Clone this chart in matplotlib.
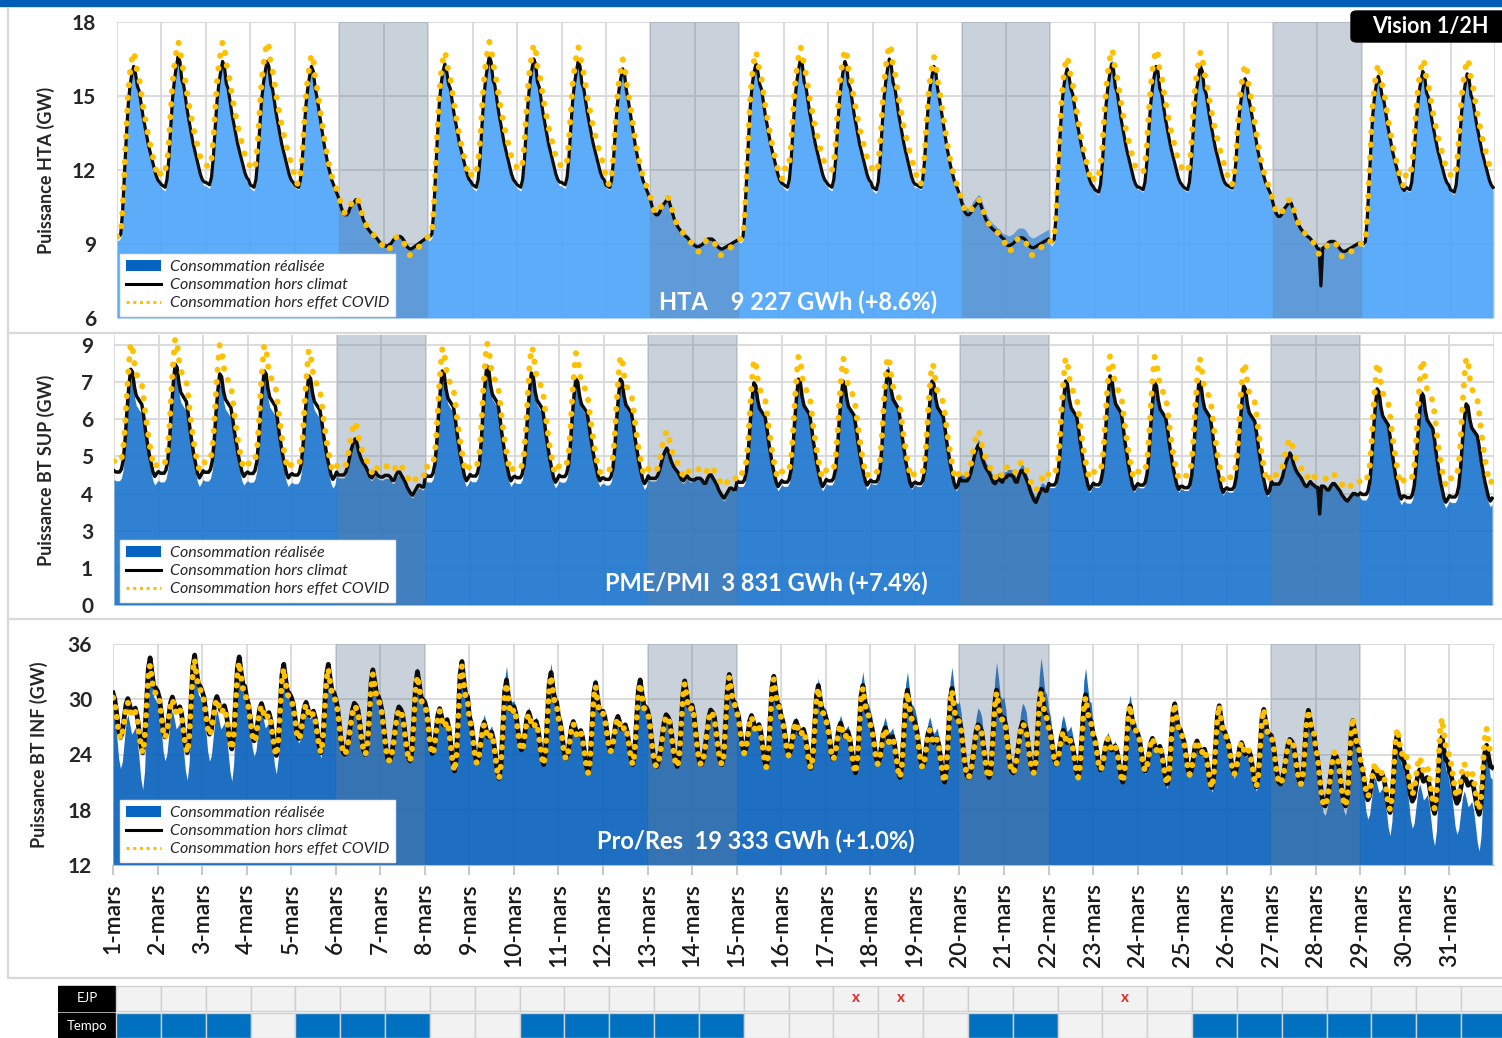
import numpy as np
import pandas as pd
import matplotlib
matplotlib.use("Agg")
import matplotlib.pyplot as plt
from matplotlib.patches import Rectangle, FancyBboxPatch, Patch
from matplotlib.lines import Line2D

plt.rcParams['font.family'] = ['Lato', 'DejaVu Sans']

# ---------------- data ----------------
days = pd.date_range('2021-03-01', periods=31)
day_labels = [f"{d.day}-mars" for d in days]
hours = np.arange(24)

# HTA : hourly shape of the "hors climat" curve per day type (GW)
hta_shapes = {
    'mon': [9.3, 9.3, 9.4, 10.3, 11.8, 13.3, 14.6, 15.4, 15.9, 16.2, 15.9, 15.4,
            15.2, 14.7, 14.2, 13.8, 13.4, 13.0, 12.7, 12.4, 12.1, 11.8, 11.6, 11.5],
    'wd': [11.4, 11.35, 11.3, 11.6, 12.4, 13.6, 14.7, 15.4, 15.9, 16.3, 16.1, 15.4,
           15.2, 14.7, 14.2, 13.8, 13.4, 13.0, 12.7, 12.4, 12.1, 11.8, 11.6, 11.5],
    'fri': [11.4, 11.35, 11.3, 11.6, 12.4, 13.6, 14.7, 15.4, 15.9, 16.3, 16.1, 15.4,
            15.0, 14.5, 14.0, 13.5, 13.0, 12.6, 12.2, 11.9, 11.6, 11.4, 11.2, 11.0],
    'sat': [10.8, 10.5, 10.3, 10.2, 10.2, 10.3, 10.5, 10.6, 10.7, 10.8, 10.75, 10.5,
            10.25, 10.0, 9.85, 9.7, 9.6, 9.5, 9.45, 9.35, 9.3, 9.2, 9.1, 9.05],
    'sun': [9.0, 8.95, 8.95, 9.0, 9.05, 9.15, 9.25, 9.3, 9.3, 9.3, 9.25, 9.15,
            9.0, 8.9, 8.85, 8.85, 8.9, 8.95, 9.0, 9.05, 9.1, 9.15, 9.2, 9.25],
}
hta_keys = ['mon', 'wd', 'wd', 'wd', 'fri', 'sat', 'sun']
hta_low = [9.3, 11.3, 11.4, 11.3, 11.0, 9.0, 8.8,
           9.3, 11.3, 11.3, 11.4, 11.0, 9.0, 8.8,
           9.2, 11.3, 11.3, 11.2, 11.0, 9.2, 8.85,
           9.1, 11.1, 11.2, 11.2, 11.0, 9.0, 8.7,
           9.0, 11.2, 11.1]
hta_peak = [16.2, 16.6, 16.4, 16.4, 16.2, 10.8, 9.3,
            16.3, 16.6, 16.5, 16.4, 16.1, 10.8, 9.2,
            16.3, 16.5, 16.4, 16.5, 16.2, 10.7, 9.25,
            16.1, 16.3, 16.2, 16.2, 15.7, 10.7, 9.1,
            15.8, 16.0, 15.9]
# offsets vs "hors climat" at the daily low / daily peak
hta_fill_lo = [-0.15, -0.15, -0.15, -0.15, -0.1, 0.1, 0.1,
               -0.15, -0.15, -0.15, -0.15, -0.1, 0.1, 0.1,
               -0.15, -0.15, -0.15, -0.15, -0.1, 0.2, 0.4,
               -0.15, -0.1, -0.1, -0.1, -0.1, 0.1, 0.1,
               -0.1, -0.1, -0.1]
hta_fill_hi = [0.0, 0.0, 0.0, 0.0, 0.0, 0.1, 0.1,
               0.0, 0.0, 0.0, 0.0, 0.0, 0.1, 0.1,
               0.0, 0.0, 0.0, 0.0, 0.0, 0.3, 0.4,
               0.0, 0.2, 0.0, 0.0, 0.0, 0.1, 0.1,
               0.0, 0.0, 0.0]
hta_cov_lo = [0.0, 0.7, 0.7, 0.7, 0.1, 0.0, -0.25,
              0.0, 0.7, 0.7, 0.7, 0.1, 0.0, -0.25,
              0.0, 0.7, 0.7, 0.7, 0.1, 0.0, -0.3,
              0.0, 0.7, 0.7, 0.7, 0.1, 0.0, -0.25,
              0.0, 0.6, 0.6]
hta_cov_hi = [0.6, 0.6, 0.8, 0.8, 0.5, 0.1, 0.0,
              0.5, 0.6, 0.6, 0.6, 0.4, 0.1, 0.0,
              0.5, 0.5, 0.5, 0.6, 0.4, 0.1, 0.0,
              0.5, 0.6, 0.7, 0.6, 0.6, 0.1, 0.0,
              0.5, 0.5, 0.6]

# BT SUP (PME/PMI)
sup_shapes = {
    'wd': [4.65, 4.6, 4.6, 4.6, 4.7, 5.0, 5.7, 6.7, 7.5, 8.1, 8.0, 7.5,
           7.2, 7.1, 7.0, 6.9, 6.5, 6.0, 5.6, 5.2, 4.9, 4.6, 4.45, 4.55],
    'sat': [4.6, 4.5, 4.5, 4.5, 4.5, 4.6, 4.8, 5.1, 5.4, 5.6, 5.75, 5.6,
            5.3, 5.1, 4.95, 4.85, 4.75, 4.6, 4.45, 4.4, 4.5, 4.6, 4.5, 4.45],
    'sun': [4.45, 4.45, 4.5, 4.5, 4.5, 4.45, 4.35, 4.35, 4.5, 4.6, 4.6, 4.5,
            4.4, 4.3, 4.15, 4.05, 3.95, 3.9, 4.0, 4.1, 4.2, 4.2, 4.15, 4.15],
}
sup_keys = ['wd', 'wd', 'wd', 'wd', 'wd', 'sat', 'sun']
sup_low = [4.45, 4.4, 4.45, 4.4, 4.35, 4.4, 3.8,
           4.3, 4.3, 4.25, 4.3, 4.2, 4.3, 3.7,
           4.1, 4.1, 4.15, 4.1, 4.05, 4.2, 3.55,
           4.0, 4.0, 4.0, 3.9, 3.85, 4.1, 3.6,
           3.67, 3.56, 3.6]
sup_peak = [8.16, 8.33, 8.0, 8.1, 7.93, 5.75, 4.6,
            8.1, 8.27, 8.03, 7.82, 7.82, 5.43, 4.5,
            7.69, 7.82, 7.75, 8.1, 7.75, 5.54, 4.65,
            7.75, 7.93, 7.69, 7.75, 7.58, 5.26, 4.2,
            7.48, 7.34, 6.96]
sup_fill_lo = [-0.3, -0.3, -0.3, -0.3, -0.3, -0.1, -0.1,
               -0.2, -0.2, -0.2, -0.2, -0.2, -0.1, -0.1,
               -0.15, -0.15, -0.15, -0.1, -0.1, 0.2, 0.2,
               -0.1, -0.1, -0.1, -0.1, -0.1, 0.0, 0.0,
               -0.2, -0.2, -0.2]
sup_fill_hi = [-0.35, -0.35, -0.35, -0.35, -0.3, -0.1, -0.1,
               -0.2, -0.15, -0.15, -0.1, -0.1, 0.0, 0.0,
               -0.1, -0.05, 0.0, 0.2, 0.0, 0.2, 0.2,
               0.1, 0.1, 0.0, 0.0, 0.0, 0.0, 0.0,
               0.0, 0.0, 0.0]
sup_cov_lo = [0.3, 0.3, 0.3, 0.3, 0.3, 0.2, 0.4,
              0.3, 0.3, 0.3, 0.3, 0.3, 0.2, 0.4,
              0.3, 0.3, 0.3, 0.3, 0.3, 0.2, 0.4,
              0.4, 0.4, 0.4, 0.4, 0.4, 0.3, 0.4,
              0.5, 0.6, 0.6]
sup_cov_hi = [0.9, 0.9, 1.0, 0.9, 0.9, 0.6, 0.3,
              0.8, 0.8, 0.9, 0.9, 0.8, 0.6, 0.3,
              0.8, 0.8, 0.8, 0.5, 0.6, 0.5, 0.3,
              0.8, 0.7, 0.9, 0.8, 0.8, 0.5, 0.3,
              0.9, 1.15, 1.6]

# BT INF (Pro/Res)
inf_shapes = {
    'wd': [30.5, 29.8, 28.3, 26.6, 25.8, 26.3, 27.8, 29.3, 29.9, 29.2, 28.4, 28.6,
           28.9, 28.1, 26.6, 25.0, 24.2, 25.6, 29.4, 33.0, 34.2, 32.6, 31.2, 31.0],
    'we': [30.8, 30.0, 28.5, 27.0, 26.0, 25.8, 26.3, 27.3, 28.6, 29.8, 30.4, 30.2,
           29.8, 28.6, 27.2, 26.2, 25.8, 26.6, 29.3, 32.2, 33.4, 32.4, 31.2, 31.0],
}
inf_keys = ['wd', 'wd', 'wd', 'wd', 'wd', 'we', 'we']
inf_low = [24.2, 24.2, 24.6, 23.9, 24.2, 24.0, 23.3,
           22.2, 21.4, 22.9, 22.0, 22.9, 22.7, 22.9,
           22.6, 22.5, 22.0, 21.5, 21.0, 21.5, 22.0,
           21.5, 21.0, 20.8, 20.4, 20.5, 20.8, 18.4,
           17.7, 17.6, 17.5]
inf_peak = [34.5, 34.8, 34.6, 33.8, 33.8, 33.2, 33.0,
            34.1, 32.1, 32.9, 31.8, 32.1, 32.0, 32.7,
            32.5, 31.5, 31.5, 31.0, 31.2, 31.0, 31.1,
            30.5, 29.3, 29.5, 29.3, 28.9, 28.8, 27.7,
            26.3, 25.9, 25.0]
inf_fill_lo = [-4.0, -3.0, -3.5, -2.0, -0.6, -0.3, 0.0,
               -0.3, 0.0, 0.0, 0.0, 0.0, 0.0, 0.0,
               0.0, 0.0, 0.0, 0.0, 0.0, 0.0, 0.0,
               0.0, 0.0, -0.5, -0.5, -0.5, 0.0, -1.0,
               -2.5, -3.5, -4.0]
inf_fill_hi = [0.0, -0.3, 0.0, 0.0, 0.0, 0.0, 0.5,
               0.3, 1.5, 1.0, 0.5, 0.3, 0.0, 0.3,
               0.2, 0.8, 1.5, 2.0, 2.3, 3.0, 3.4,
               2.9, 1.2, 0.5, 0.3, 0.0, 0.0, 0.0,
               0.0, 0.0, 0.0]
inf_cov_lo = [0.0, 0.0, 0.0, 0.0, 0.0, 0.0, 0.0,
              0.0, 0.0, 0.0, 0.0, 0.0, 0.0, 0.0,
              0.0, 0.0, 0.0, 0.0, 0.0, 0.0, 0.0,
              0.0, 0.0, 0.0, 0.0, 0.0, 0.0, 0.0,
              0.3, 0.5, 0.5]
inf_cov_hi = [-0.8, -0.5, -0.6, -0.5, -0.5, -0.5, -0.5,
              -0.5, -0.4, -0.4, -0.4, -0.4, -0.3, -0.3,
              -0.3, -0.3, -0.3, -0.3, -0.3, -0.3, -0.3,
              -0.3, 0.0, 0.0, 0.0, 0.0, 0.0, 0.3,
              0.5, 2.0, 1.8]

# summer time switch (28 March, 2h) glitch on the "hors climat" curve
dst_day, dst_hour = 27, 2
hta_dst, sup_dst = 7.3, 3.15

panel_titles = ['HTA    9 227 GWh (+8.6%)', 'PME/PMI  3 831 GWh (+7.4%)',
                'Pro/Res  19 333 GWh (+1.0%)']
ylabels = ['Puissance HTA (GW)', 'Puissance BT SUP (GW)', 'Puissance BT INF (GW)']
sup_ticklabels = ['0', '1', '3', '4', '5', '6', '7', '9']
legend_labels = ['Consommation réalisée', 'Consommation hors climat',
                 'Consommation hors effet COVID']

ejp_days = [17, 18, 23]
tempo_blue = [1, 2, 3, 5, 6, 7, 10, 11, 12, 13, 14, 20, 21,
              25, 26, 27, 28, 29, 30, 31]


def build(shapes, keys, low, peak, f_lo, f_hi, c_lo, c_hi):
    black, fill, covid = [], [], []
    for i, d in enumerate(days):
        s = np.array(shapes[keys[d.dayofweek]], float)
        n = (s - s.min()) / (s.max() - s.min())
        b = low[i] + n * (peak[i] - low[i])
        black.append(b)
        fill.append(b + f_lo[i] + n * (f_hi[i] - f_lo[i]))
        covid.append(b + c_lo[i] + n * (c_hi[i] - c_lo[i]))
    return np.concatenate(black), np.concatenate(fill), np.concatenate(covid)


x = np.concatenate([i + hours / 24 for i in range(len(days))])
hta = build(hta_shapes, hta_keys, hta_low, hta_peak, hta_fill_lo, hta_fill_hi,
            hta_cov_lo, hta_cov_hi)
sup = build(sup_shapes, sup_keys, sup_low, sup_peak, sup_fill_lo, sup_fill_hi,
            sup_cov_lo, sup_cov_hi)
inf = build(inf_shapes, inf_keys, inf_low, inf_peak, inf_fill_lo, inf_fill_hi,
            inf_cov_lo, inf_cov_hi)
hta[0][dst_day * 24 + dst_hour] = hta_dst
sup[0][dst_day * 24 + dst_hour] = sup_dst

# ---------------- figure ----------------
W, H = 1502, 1038
fig = plt.figure(figsize=(W / 100, H / 100), dpi=100)


def box(l, t, r, b):
    return [l / W, 1 - b / H, (r - l) / W, (b - t) / H]


fig.patches.append(Rectangle((0, 1 - 6 / H), 1, 6 / H, transform=fig.transFigure,
                             color='#005EB8', zorder=0))
for (x0, y0, x1, y1) in [(8, 9, 8, 978), (8, 333, 1502, 333), (8, 619, 1502, 619),
                         (8, 978, 1502, 978)]:
    fig.lines.append(Line2D([x0 / W, x1 / W], [1 - y0 / H, 1 - y1 / H],
                            transform=fig.transFigure, color='#D9D9D9', lw=1.6))

panels = [
    dict(rect=box(117, 22, 1495, 318), data=hta, ylim=(6, 18), ticks=[6, 9, 12, 15, 18],
         labels=['6', '9', '12', '15', '18'], fill='#4EA5FA', lw=2.3, dot=(0, (0.05, 2.1)),
         leg=(120, 316), title=(798, 302), ylab=46),
    dict(rect=box(114, 335, 1494, 605), data=sup, ylim=(0, 9 * 270 / 260),
         ticks=list(np.linspace(0, 9, 8)), labels=sup_ticklabels, fill='#1E76CF', lw=2.5,
         dot=(0, (0.05, 2.0)), leg=(120, 602), title=(766, 583), ylab=46),
    dict(rect=box(113, 644, 1494, 865), data=inf, ylim=(12, 36), ticks=[12, 18, 24, 30, 36],
         labels=['12', '18', '24', '30', '36'], fill='#0A63BC', lw=3.4,
         dot=(0, (0.05, 1.6)), leg=(120, 862), title=(756, 841), ylab=39),
]

for k, p in enumerate(panels):
    ax = fig.add_axes(p['rect'])
    black, fill, covid = p['data']
    ax.set_xlim(0, 31)
    ax.set_ylim(*p['ylim'])
    for v in range(32):
        ax.axvline(v, color='#D9D9D9', lw=1.3, zorder=0.5)
    for t in p['ticks']:
        ax.axhline(t, color='#D9D9D9', lw=1.3, zorder=0.5)
    ax.fill_between(x, p['ylim'][0], fill, color=p['fill'], alpha=0.92, lw=0, zorder=1)
    for i, d in enumerate(days):
        if d.dayofweek == 5:
            ax.axvspan(i, i + 2, color='#657C99', alpha=0.35, lw=0, zorder=2)
    ax.plot(x, black, color='#0D0D0D', lw=p['lw'], zorder=3, solid_joinstyle='round')
    ax.plot(x, covid, color='#FFC000', lw=4.3, linestyle=p['dot'],
            dash_capstyle='round', zorder=4)

    ax.set_yticks(p['ticks'])
    ax.set_yticklabels(p['labels'], fontsize=15, fontweight='bold', color='#262626')
    ax.tick_params(axis='y', length=0, pad=15)
    for s in ax.spines.values():
        s.set_visible(False)
    if k < 2:
        ax.set_xticks([])
    else:
        ax.set_xticks(range(31))
        ax.set_xticklabels(day_labels, rotation=90, fontsize=16.5, color='#1A1A1A',
                           fontweight='semibold')
        ax.tick_params(axis='x', length=7, color='#BFBFBF', width=1.2, pad=6)
        ax.spines['bottom'].set_visible(True)
        ax.spines['bottom'].set_color('#BFBFBF')

    handles = [Patch(facecolor='#0563C1', edgecolor='none'),
               Line2D([], [], color='black', lw=2.2),
               Line2D([], [], color='#FFC000', lw=2.2, linestyle=(0, (1, 1.2)))]
    l, t = p['rect'][0] * W, (1 - p['rect'][1] - p['rect'][3]) * H
    pw, ph = p['rect'][2] * W, p['rect'][3] * H
    lx = (p['leg'][0] - l) / pw
    ly = ((1 - p['rect'][1]) * H - p['leg'][1]) / ph
    leg = ax.legend(handles, legend_labels, loc='lower left', bbox_to_anchor=(lx, ly),
                    borderaxespad=0, frameon=True, fancybox=False, framealpha=1,
                    edgecolor='#EEEEEE', prop=dict(size=11.5, style='italic'),
                    labelspacing=0.25, handlelength=2.2, handletextpad=0.6,
                    borderpad=0.35)
    for txt in leg.get_texts():
        txt.set_color('#262626')
    leg.set_zorder(6)

    tx = (p['title'][0] - l) / pw
    ty = ((1 - p['rect'][1]) * H - p['title'][1]) / ph
    ax.text(tx, ty, panel_titles[k], transform=ax.transAxes, ha='center', va='center',
            fontsize=17, fontweight='bold', color='white', zorder=7)

    cy = 1 - (t + ph / 2) / H
    fig.text(p['ylab'] / W, cy, ylabels[k], rotation=90, ha='center', va='center',
             fontsize=13, fontweight='bold', color='#262626')

# Vision box
fig.patches.append(FancyBboxPatch((1351 / W, 1 - 42 / H), 170 / W, 31 / H,
                                  boxstyle='round,pad=0,rounding_size=0.004',
                                  transform=fig.transFigure, color='black', zorder=5))
fig.text(1430 / W, 1 - 27 / H, 'Vision 1/2H', ha='center', va='center', fontsize=15.5,
         fontweight='bold', color='white', zorder=6)

# EJP / Tempo strip
tab = fig.add_axes(box(58, 985, 1506, 1039))
tab.set_xlim(-1.294, 31)
tab.set_ylim(0, 2)
tab.axis('off')
for row, name in [(1, 'EJP'), (0, 'Tempo')]:
    tab.add_patch(Rectangle((-1.294, row + 0.04), 1.28, 0.92, color='black'))
    tab.text(-0.65, row + 0.5, name, color='white', ha='center', va='center', fontsize=9.5)
    for i in range(31):
        blue = row == 0 and (i + 1) in tempo_blue
        tab.add_patch(Rectangle((i, row + 0.04), 1, 0.92,
                                facecolor='#0070C0' if blue else '#F2F2F2',
                                edgecolor='#D0D0D0', lw=1))
for dd in ejp_days:
    tab.text(dd - 0.5, 1.5, 'x', color='#E3262B', ha='center', va='center',
             fontsize=11, fontweight='bold')

fig.savefig('out.png', dpi=100)
